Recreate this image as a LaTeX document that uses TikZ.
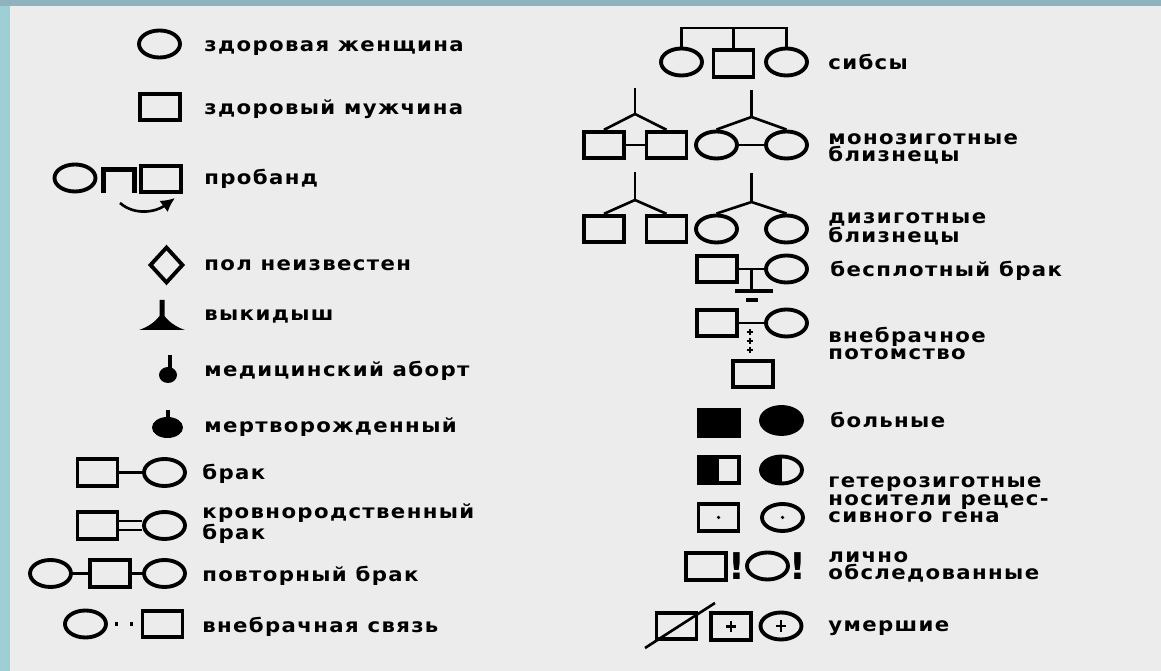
\documentclass[tikz,border=0pt]{standalone}
\usepackage{fontspec}
\usetikzlibrary{shapes.geometric,arrows.meta}
\newfontfamily\lab[LetterSpace=7,FakeStretch=1.1]{DejaVu Sans}
\newfontfamily\symf{DejaVu Sans}
\newcommand\labfont{\lab\bfseries\fontsize{11}{10.2}\selectfont}
\definecolor{panel}{HTML}{ECECEC}
\definecolor{frameL}{HTML}{9ECFD4}
\definecolor{frameT}{HTML}{8FB2BF}
\tikzset{
  fem/.style={ellipse, draw, line width=2.2pt, minimum width=0.82cm, minimum height=0.54cm, inner sep=0pt},
  mal/.style={rectangle, draw, line width=2.2pt, minimum width=0.8cm, minimum height=0.53cm, inner sep=0pt},
  link/.style={line width=1.5pt},
  lab/.style={anchor=base west, inner sep=0pt, align=left, font=\labfont},
  halffill/.style={path picture={\fill (path picture bounding box.north west) rectangle (path picture bounding box.south);}},
  bang/.style={inner sep=0pt, font=\symf\bfseries\fontsize{21}{21}\selectfont},
  plusmark/.style={line width=1.5pt}
}
\begin{document}
\begin{tikzpicture}[x=0.02cm, y=-0.02cm]
\fill[frameL] (0,0) rectangle (1161,671);
\fill[frameT] (0,0) rectangle (1161,6);
\fill[panel] (10,6) rectangle (1161,671);
\useasboundingbox (0,0) rectangle (1161,671);

% ---- left column ----
\node[fem] (f1) at (159.5,44) {};
\node[lab] (t1) at (204,52) {здоровая женщина};
\node[mal] (m1) at (160,107) {};
\node[lab] (t2) at (204,115) {здоровый мужчина};

\node[fem] (pc) at (75,178) {};
\node[mal] (pm) at (161,179) {};
\draw[line width=2.6pt] (103.5,193) -- (103.5,169.5) -- (134.5,169.5) -- (134.5,193);
\coordinate (pa) at (120,203);
\coordinate (pb) at (175,198);
\draw[link, -{Latex[length=8pt,width=8pt]}] (pa) .. controls (135,216) and (156,212) .. (pb);
\node[lab] (t3) at (204,185) {пробанд};

\node[diamond, draw, line width=2.2pt, minimum width=0.67cm, minimum height=0.73cm, inner sep=0pt] (dm) at (166.5,265) {};
\node[lab] (t4) at (204,270.5) {пол неизвестен};

\fill (159.5,300) -- (164.5,300) -- (164.5,316) .. controls (169,322) and (176,327) .. (185,330) -- (139,330) .. controls (148,327) and (155,322) .. (159.5,316) -- cycle;
\node[lab] (t5) at (204,321) {выкидыш};

\fill (168,375) ellipse [x radius=9, y radius=8];
\draw[line width=2.3pt] (170,355) -- (170,370);
\node[lab] (t6) at (204,377) {медицинский аборт};

\fill (167.5,427.5) ellipse [x radius=15.5, y radius=10.5];
\draw[line width=2.3pt] (168,410) -- (168,420);
\node[lab] (t7) at (204,433) {мертворожденный};

\node[mal] (bm) at (97.5,472.5) {};
\node[fem] (bf) at (164.5,472.5) {};
\draw[link] (bm) -- (bf);
\node[lab] (t8) at (202,480) {брак};

\node[mal] (km) at (97.5,525.5) {};
\node[fem] (kf) at (164.5,525.5) {};
\draw[link] ([yshift=2.6pt]km.east) -- ([yshift=2.6pt]kf.west);
\draw[link] ([yshift=-2.6pt]km.east) -- ([yshift=-2.6pt]kf.west);
\node[lab] (t9) at (202,540) {кровнородственный\\брак};

\node[fem] (rf1) at (50.5,573.5) {};
\node[mal] (rm) at (110,573.5) {};
\node[fem] (rf2) at (164.5,573.5) {};
\draw[link] (rf1) -- (rm);
\draw[link] (rm) -- (rf2);
\node[lab] (t10) at (202,582) {повторный брак};

\node[fem] (ef) at (85.5,624) {};
\node[mal] (em) at (162.5,624) {};
\draw[line width=1.8pt, dash pattern=on 1.7pt off 6.8pt, dash phase=4.5pt] (ef.east) -- (em.west);
\node[lab] (t11) at (202,633) {внебрачная связь};

% ---- right column ----
\node[fem] (s1) at (681.5,62) {};
\node[mal] (s2) at (733.5,63.5) {};
\node[fem] (s3) at (786.5,62) {};
\coordinate (sb1) at (681.5,28);
\coordinate (sb2) at (733.5,28);
\coordinate (sb3) at (786.5,28);
\draw[link] (s1.north) -- (sb1) -- (sb3) -- (s3.north);
\draw[link] (sb2) -- (s2.north);
\node[lab] (t12) at (828,70) {сибсы};

\node[mal] (mz1) at (604,145) {};
\node[mal] (mz2) at (666.5,145) {};
\draw[link] (mz1) -- (mz2);
\coordinate (mza) at (635,114);
\coordinate (mzt) at (635,88);
\draw[link] (mzt) -- (mza);
\draw[link] (mz1.north) -- (mza) -- (mz2.north);
\node[fem] (mf1) at (716.5,145) {};
\node[fem] (mf2) at (786.5,145) {};
\draw[link] (mf1) -- (mf2);
\coordinate (mfa) at (751.5,117);
\coordinate (mft) at (751.5,90);
\draw[link] (mft) -- (mfa);
\draw[link] (mf1.north) -- (mfa) -- (mf2.north);
\node[lab] (t13) at (828,162) {монозиготные\\близнецы};

\node[mal] (dz1) at (604,229) {};
\node[mal] (dz2) at (666.5,229) {};
\coordinate (dza) at (635,200);
\coordinate (dzt) at (635,172);
\draw[link] (dzt) -- (dza);
\draw[link] (dz1.north) -- (dza) -- (dz2.north);
\node[fem] (df1) at (716.5,229) {};
\node[fem] (df2) at (786.5,229) {};
\coordinate (dfa) at (751.5,202);
\coordinate (dft) at (751.5,173);
\draw[link] (dft) -- (dfa);
\draw[link] (df1.north) -- (dfa) -- (df2.north);
\node[lab] (t14) at (828,243) {дизиготные\\близнецы};

\node[mal] (cm) at (717,269) {};
\node[fem] (cf) at (786.5,269) {};
\draw[link] (cm) -- (cf);
\coordinate (cl) at (751.5,269);
\coordinate (clb) at (751.5,291);
\draw[link] (cl) -- (clb);
\draw[line width=1.8pt] (735,291) -- (773,291);
\draw[line width=1.8pt] (746,300) -- (758,300);
\node[lab] (t15) at (830,277) {бесплотный брак};

\node[mal] (om) at (717,323) {};
\node[fem] (of) at (786.5,323) {};
\draw[link] (om) -- (of);
\node[mal] (oc) at (753,374) {};
\foreach \yy in {332,341,350}
  \draw[line width=0.9pt] (747,\yy) -- (753,\yy) (750,\yy-3) -- (750,\yy+3);
\node[lab] (t16) at (828,360) {внебрачное\\потомство};

\node[mal, fill=black] (am) at (719,423) {};
\node[fem, fill=black] (af) at (781.5,420.5) {};
\node[lab] (t17) at (830,428) {больные};

\node[mal, halffill] (hm) at (719,470) {};
\node[fem, halffill] (hf) at (781.5,470) {};
\node[lab] (t18) at (828,523) {гетерозиготные\\носители рецес-\\сивного гена};

\node[mal] (cam) at (718.5,517.5) {};
\node[fem] (caf) at (782.5,517.5) {};
\fill (cam.center) circle [radius=1pt];
\fill (caf.center) circle [radius=1pt];

\node[mal] (xm) at (706,566.5) {};
\node[bang] (x1) at (737,566.5) {!};
\node[fem] (xf) at (767.5,566) {};
\node[bang] (x2) at (798,566.5) {!};
\node[lab] (t19) at (828,580) {лично\\обследованные};

\node[mal] (um1) at (676.5,626) {};
\coordinate (ud1) at (645,648);
\coordinate (ud2) at (715,603);
\draw[link] (ud1) -- (ud2);
\node[mal] (um2) at (731,626.5) {};
\draw[plusmark] ([xshift=-2.8pt]um2.center) -- ([xshift=2.8pt]um2.center);
\draw[plusmark] ([yshift=-3.2pt]um2.center) -- ([yshift=3.2pt]um2.center);
\node[fem] (uf) at (781,626) {};
\draw[plusmark] ([xshift=-2.8pt]uf.center) -- ([xshift=2.8pt]uf.center);
\draw[plusmark] ([yshift=-3.2pt]uf.center) -- ([yshift=3.2pt]uf.center);
\node[lab] (t20) at (828,632) {умершие};
\end{tikzpicture}
\end{document}
